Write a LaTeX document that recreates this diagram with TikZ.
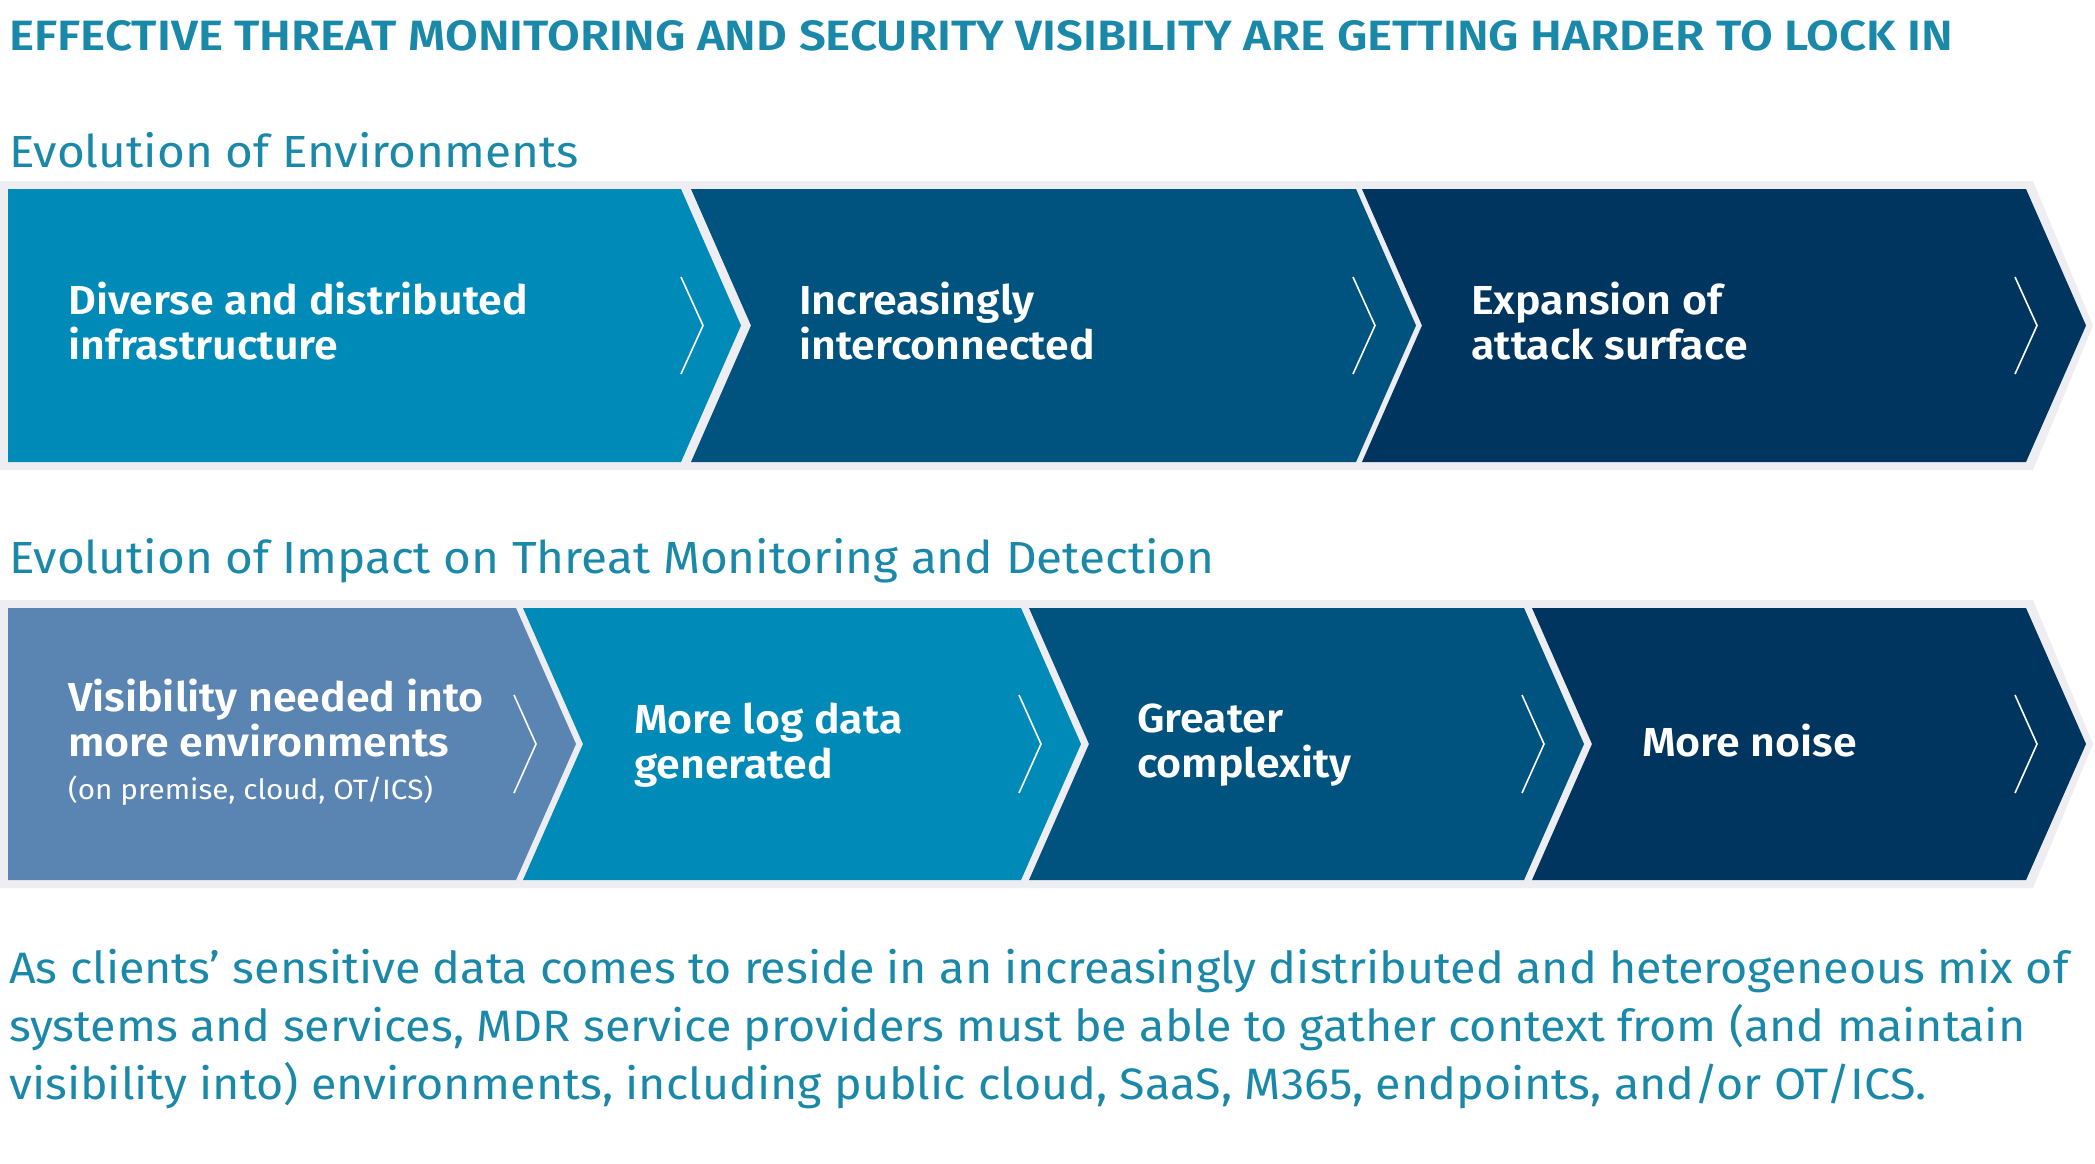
\documentclass[tikz,border=0pt]{standalone}
\usepackage{fontspec}
\setmainfont{Fira Sans}[BoldFont={Fira Sans SemiBold}, FakeStretch=1.06]
\newfontfamily\titlefont{Fira Sans SemiBold}[FakeStretch=1.12]
\definecolor{headTeal}{HTML}{1A89A9}
\definecolor{bandGrey}{HTML}{EEEEF2}
\definecolor{boxSteel}{HTML}{5A84B2}
\definecolor{boxTeal}{HTML}{008AB8}
\definecolor{boxNavy}{HTML}{00527F}
\definecolor{boxDark}{HTML}{00355F}
\begin{document}
\begin{tikzpicture}[x=1pt, y=-1pt,
  boxtext/.style={anchor=west, inner sep=0pt, align=left, text=white, font=\fontsize{40.5}{45}\selectfont\bfseries},
  heading/.style={anchor=base west, inner sep=0pt, text=headTeal, font=\fontsize{45}{50}\selectfont},
  chevmark/.style={white, line width=1.6pt}]
  \useasboundingbox (0,0) rectangle (2095,1163);
  \fill[white] (0,0) rectangle (2095,1163);

  \node[anchor=west, inner sep=0pt, text=headTeal, font=\fontsize{42.4}{46}\titlefont] (title) at (9,36)
    {EFFECTIVE THREAT MONITORING AND SECURITY VISIBILITY ARE GETTING HARDER TO LOCK IN};

  \node[heading] (envhead) at (9,167) {Evolution of Environments};
  \fill[bandGrey] (0,181) -- (2033,181) -- (2093,325.5) -- (2033,470) -- (0,470) -- cycle;
  \foreach \l/\r/\m/\c/\n in {8/681/681/boxTeal/0, 691/1356/1353/boxNavy/1, 1362/2026/2015/boxDark/1} {
    \fill[\c] (\l,189) -- (\r,189) -- (\r+60,325.5) -- (\r,462) -- (\l,462) -- (\l+60*\n,325.5) -- cycle;
    \draw[chevmark] (\m,277) -- (\m+22,325.5) -- (\m,374);
  }
  \node[boxtext] (env1) at (68,321) {Diverse and distributed\\infrastructure};
  \node[boxtext] (env2) at (799,321) {Increasingly\\interconnected};
  \node[boxtext] (env3) at (1471,321) {Expansion of\\attack surface};

  \node[heading] (imphead) at (9,573) {Evolution of Impact on Threat Monitoring and Detection};
  \fill[bandGrey] (0,600) -- (2033,600) -- (2093,744) -- (2033,888) -- (0,888) -- cycle;
  \foreach \l/\r/\m/\c/\n in {8/516/514/boxSteel/0, 523/1021/1019/boxTeal/1, 1029/1524/1522/boxNavy/1, 1532/2026/2015/boxDark/1} {
    \fill[\c] (\l,608) -- (\r,608) -- (\r+60,744) -- (\r,880) -- (\l,880) -- (\l+60*\n,744) -- cycle;
    \draw[chevmark] (\m,695) -- (\m+22,744) -- (\m,793);
  }
  \node[boxtext] (imp1) at (68,742) {Visibility needed into\\more environments\\[-2pt]{\fontsize{28}{33}\selectfont\mdseries (on premise, cloud, OT/ICS)}};
  \node[boxtext] (imp2) at (634,745) {More log data\\generated};
  \node[boxtext] (imp3) at (1137,745) {Greater\\complexity};
  \node[boxtext] (imp4) at (1642,741) {More noise};

  \node[anchor=west, inner sep=0pt, align=left, text=headTeal, font=\fontsize{44}{58}\selectfont] (summary) at (9,1029)
    {As clients’ sensitive data comes to reside in an increasingly distributed and heterogeneous mix of\\
     systems and services, MDR service providers must be able to gather context from (and maintain\\
     visibility into) environments, including public cloud, SaaS, M365, endpoints, and/or OT/ICS.};
\end{tikzpicture}
\end{document}
